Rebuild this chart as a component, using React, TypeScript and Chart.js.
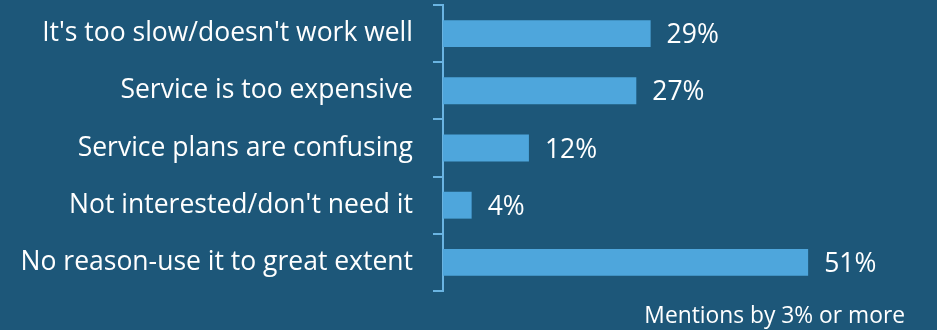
import React, { useEffect, useRef } from "react";
import { Chart, registerables } from "chart.js";

Chart.register(...registerables);

const categories = [
  "It's too slow/doesn't work well",
  "Service is too expensive",
  "Service plans are confusing",
  "Not interested/don't need it",
  "No reason-use it to great extent",
];
const values = [29, 27, 12, 4, 51];
const footnote = "Mentions by 3% or more";

const BG = "#1d5779";
const BAR = "#4ea6dc";
const AXIS = "#6ab4e2";
const FONT = "'Open Sans', 'Noto Sans', sans-serif";

export default function App() {
  const ref = useRef<HTMLCanvasElement | null>(null);

  useEffect(() => {
    if (!ref.current) return;
    const valueLabels = {
      id: "valueLabels",
      afterDatasetsDraw(chart: any) {
        const ctx = chart.ctx;
        const meta = chart.getDatasetMeta(0);
        ctx.save();
        ctx.fillStyle = "#ffffff";
        ctx.font = `26.5px ${FONT}`;
        ctx.textAlign = "left";
        ctx.textBaseline = "middle";
        meta.data.forEach((el: any, i: number) => {
          ctx.fillText(values[i] + "%", el.x + 16, el.y + 2);
        });
        ctx.restore();
      },
    };
    const footer = {
      id: "footer",
      afterDraw(chart: any) {
        const ctx = chart.ctx;
        ctx.save();
        ctx.fillStyle = "#ffffff";
        ctx.font = `22.8px ${FONT}`;
        ctx.textAlign = "right";
        ctx.textBaseline = "alphabetic";
        ctx.fillText(footnote, 905, 323);
        ctx.restore();
      },
    };
    const chart = new Chart(ref.current, {
      type: "bar",
      data: {
        labels: categories,
        datasets: [
          {
            data: values,
            backgroundColor: BAR,
            borderWidth: 0,
            categoryPercentage: 1,
            barPercentage: 0.47,
          },
        ],
      },
      options: {
        indexAxis: "y",
        animation: false,
        responsive: false,
        layout: { padding: { top: 5, bottom: 39, left: 0, right: 0 } },
        plugins: {
          legend: { display: false },
          tooltip: { enabled: false },
          title: { display: false },
        },
        scales: {
          x: { display: false, min: 0, max: 69 },
          y: {
            afterFit: (s: any) => {
              s.width = 443;
              s.paddingTop = 0;
              s.paddingBottom = 0;
            },
            grid: {
              display: true,
              drawOnChartArea: false,
              drawTicks: true,
              tickLength: 10,
              color: AXIS,
              lineWidth: 2,
              offset: true,
            },
            border: { display: true, color: AXIS, width: 2 },
            ticks: {
              color: "#ffffff",
              padding: 20,
              font: { family: FONT, size: 26.5 },
            },
          },
        },
      },
      plugins: [valueLabels, footer],
    });
    return () => chart.destroy();
  }, []);

  return (
    <div style={{ position: "fixed", left: 0, top: 0, width: 937, height: 330, background: BG }}>
      <canvas ref={ref} width={937} height={330} style={{ display: "block" }} />
    </div>
  );
}
